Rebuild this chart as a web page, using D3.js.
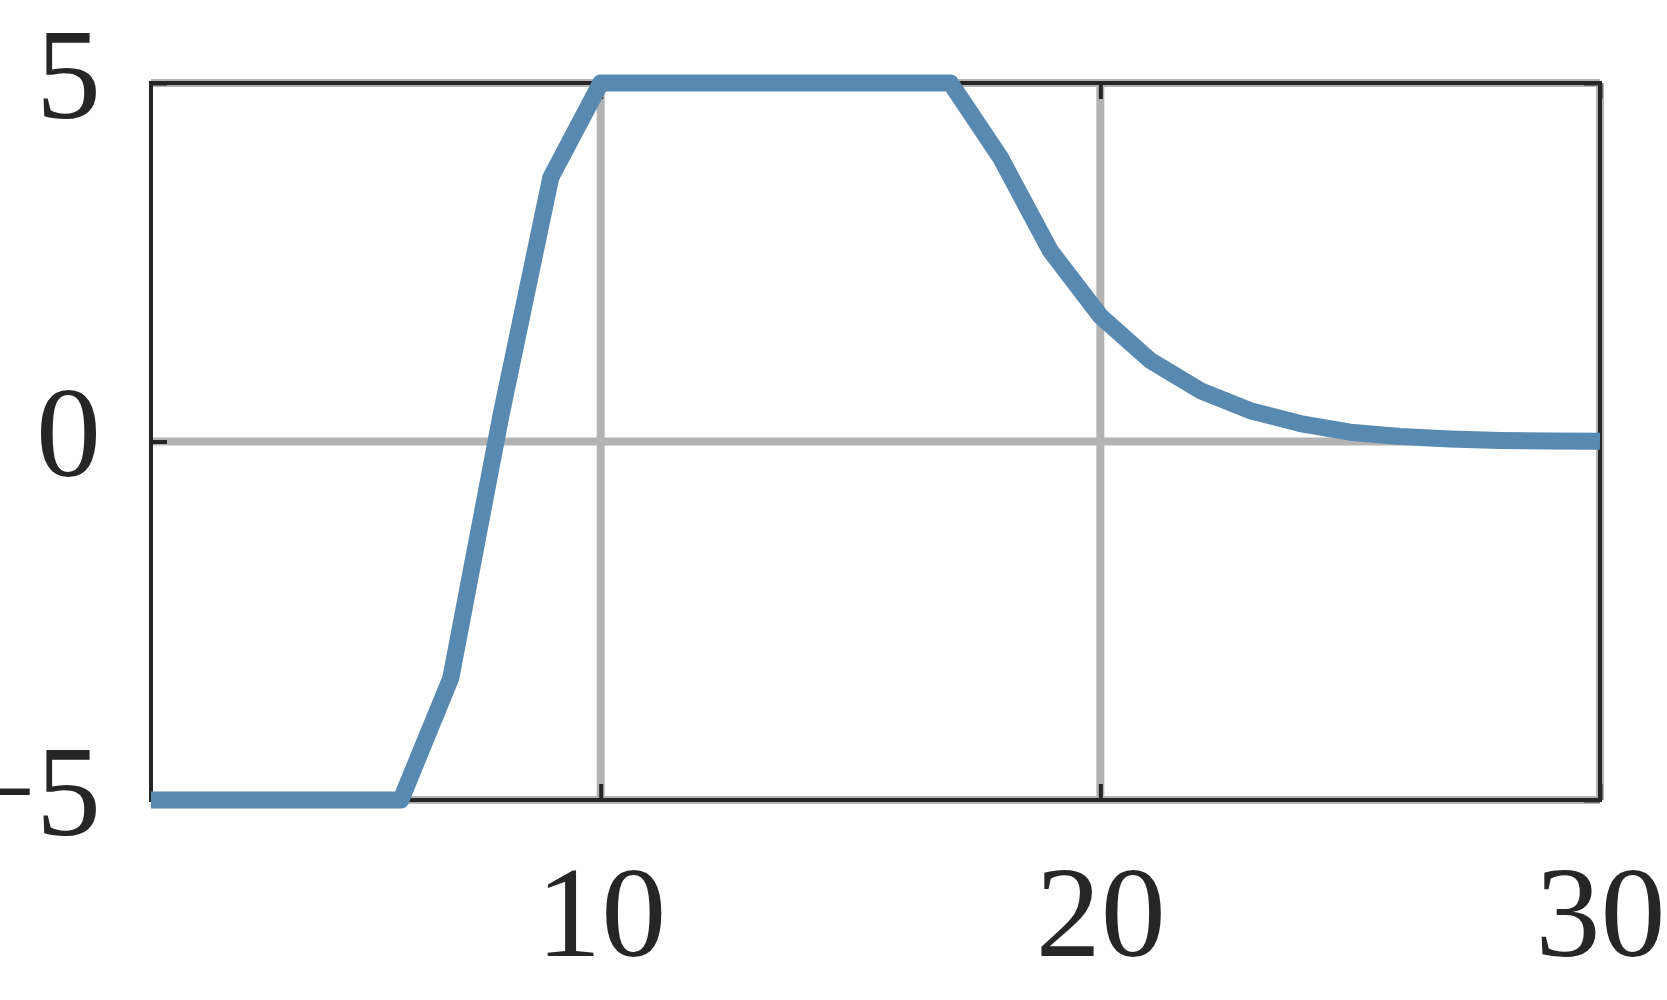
<!DOCTYPE html>
<html>
<head>
<meta charset="utf-8">
<script src="https://cdn.jsdelivr.net/npm/d3@7"></script>
<style>
  html, body { margin: 0; padding: 0; background: #ffffff; }
  svg { display: block; }
  .lbl { font-family: "Liberation Serif", "Times New Roman", serif; }
</style>
</head>
<body>
<svg id="chart" width="1667" height="1000"></svg>
<script>
// ---- data ----
const xValues = [1,2,3,4,5,6,7,8,9,10,11,12,13,14,15,16,17,18,19,20,21,22,23,24,25,26,27,28,29,30];
const yValues = [-5,-5,-5,-5,-5,-5,-3.3,0.35,3.68,5,5,5,5,5,5,5,5,3.96,2.66,1.75,1.13,0.71,0.43,0.25,0.13,0.07,0.035,0.015,0.007,0.003];
const xTicks = [10, 20, 30];
const yTicks = [-5, 0, 5];
const xTickLabels = ["10", "20", "30"];
const yTickLabels = ["\u22125", "0", "5"];

(function () {
  // ---- layout ----
  const pLeft = 151, pRight = 1600, pTop = 83, pBottom = 800;
  const ink = "#262626";
  const gridColor = "#b3b3b3";
  const lineColor = "#5889b1";
  const fontSize = 130;

  const svg = d3.select("#chart");
  const x = d3.scaleLinear().domain([1, 30]).range([pLeft, pRight]);
  const y = d3.scaleLinear().domain([-5, 5]).range([pBottom, pTop]);

  // gridlines
  const grid = svg.append("g");
  grid.selectAll("line.gx").data(xTicks).join("line").attr("class", "gx")
    .attr("x1", d => x(d)).attr("x2", d => x(d))
    .attr("y1", pTop).attr("y2", pBottom)
    .attr("stroke", gridColor).attr("stroke-width", 8);
  grid.selectAll("line.gy").data(yTicks).join("line").attr("class", "gy")
    .attr("y1", d => y(d)).attr("y2", d => y(d))
    .attr("x1", pLeft).attr("x2", pRight)
    .attr("stroke", gridColor).attr("stroke-width", 8);

  // spines
  svg.append("rect")
    .attr("x", pLeft).attr("y", pTop)
    .attr("width", pRight - pLeft).attr("height", pBottom - pTop)
    .attr("fill", "none").attr("stroke", ink).attr("stroke-width", 4);

  // axes (inward ticks on all four sides)
  const tickLen = 16;
  function styleAxis(g) {
    g.select(".domain").remove();
    g.selectAll(".tick line").attr("stroke", ink).attr("stroke-width", 4);
  }
  const fmtX = (d, i) => xTickLabels[i];
  const fmtY = (d, i) => yTickLabels[i];

  const axB = svg.append("g").attr("transform", `translate(0,${pBottom})`)
    .call(d3.axisBottom(x).tickValues(xTicks).tickFormat(fmtX).tickSize(-tickLen));
  axB.attr("font-family", null).attr("font-size", null);
  styleAxis(axB);
  axB.selectAll(".tick text")
    .attr("class", "lbl")
    .attr("y", 156).attr("dy", null)
    .attr("fill", ink).style("font-size", fontSize + "px")
    .attr("text-anchor", "middle");

  const axT = svg.append("g").attr("transform", `translate(0,${pTop})`)
    .call(d3.axisTop(x).tickValues(xTicks).tickFormat("").tickSize(-tickLen));
  styleAxis(axT);

  const axL = svg.append("g").attr("transform", `translate(${pLeft},0)`)
    .call(d3.axisLeft(y).tickValues(yTicks).tickFormat(fmtY).tickSize(-tickLen));
  axL.attr("font-family", null).attr("font-size", null);
  styleAxis(axL);
  axL.selectAll(".tick text")
    .attr("class", "lbl")
    .attr("x", 101 - pLeft).attr("dy", null).attr("y", 34)
    .attr("fill", ink).style("font-size", fontSize + "px")
    .attr("text-anchor", "end");

  const axR = svg.append("g").attr("transform", `translate(${pRight},0)`)
    .call(d3.axisRight(y).tickValues(yTicks).tickFormat("").tickSize(-tickLen));
  styleAxis(axR);

  // data line
  const line = d3.line().x((d, i) => x(xValues[i])).y(d => y(d));
  svg.append("path")
    .datum(yValues)
    .attr("d", line)
    .attr("fill", "none")
    .attr("stroke", lineColor)
    .attr("stroke-width", 17)
    .attr("stroke-linejoin", "round")
    .attr("stroke-linecap", "butt");
})();
</script>
</body>
</html>
